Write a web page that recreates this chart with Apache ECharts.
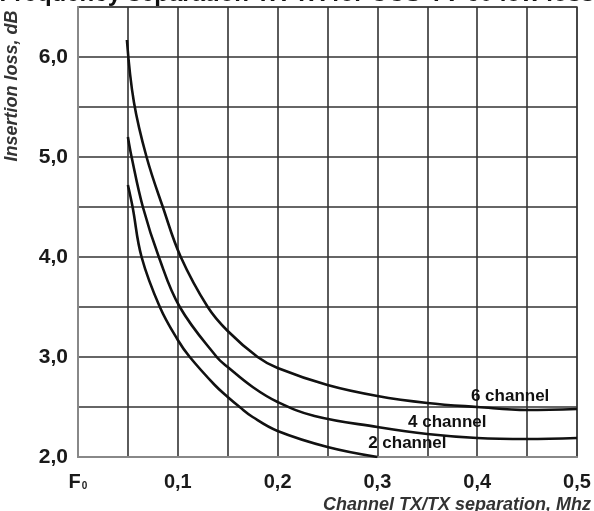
<!DOCTYPE html>
<html>
<head>
<meta charset="utf-8">
<script src="https://cdn.jsdelivr.net/npm/echarts@6/dist/echarts.min.js"></script>
<style>
html,body{margin:0;padding:0;background:#fff;}
#c{width:594px;height:511px;}
</style>
</head>
<body>
<div id="c"></div>
<script>
// ---- data ----
var titleText = 'Frequency separation TX-TX for CCS-TV-60 low loss';
var yAxisName = 'Insertion loss, dB';
var xAxisName = 'Channel TX/TX separation, Mhz';
var xTickLabels = {0: 'F0', 10: '0,1', 20: '0,2', 30: '0,3', 40: '0,4', 50: '0,5'};
var yTickLabels = {20: '2,0', 30: '3,0', 40: '4,0', 50: '5,0', 60: '6,0'};

var sixChannel = [[0.049,6.17],[0.056,5.55],[0.0687,5.0],[0.085,4.5],[0.103,4.0],[0.130,3.5],[0.15,3.26],[0.18,3.0],[0.20,2.89],[0.25,2.72],[0.30,2.61],[0.35,2.54],[0.40,2.50],[0.45,2.47],[0.50,2.48]];
var fourChannel = [[0.050,5.20],[0.0537,5.0],[0.065,4.5],[0.081,4.0],[0.102,3.5],[0.139,3.0],[0.15,2.90],[0.175,2.70],[0.20,2.55],[0.237,2.41],[0.30,2.30],[0.35,2.23],[0.40,2.19],[0.45,2.18],[0.50,2.19]];
var twoChannel = [[0.050,4.72],[0.0547,4.5],[0.0637,4.0],[0.082,3.5],[0.10,3.17],[0.112,3.0],[0.137,2.72],[0.15,2.60],[0.162,2.5],[0.175,2.40],[0.20,2.26],[0.25,2.10],[0.30,2.0]];

var curveNames = ['6 channel', '4 channel', '2 channel'];
var curveLabelAt = [[0.433, 2.61], [0.37, 2.35], [0.33, 2.14]];

// ---- chart ----
var FONT = '"Liberation Sans", Arial, Helvetica, sans-serif';
var chart = echarts.init(document.getElementById('c'), null, {renderer: 'canvas'});

function lineSeries(name, data, labelPos) {
  return {
    name: name,
    type: 'line',
    data: data,
    showSymbol: false,
    smooth: 0.4,
    lineStyle: {color: '#111', width: 2.6},
    z: 5,
    markPoint: {
      symbol: 'circle',
      symbolSize: 0,
      silent: true,
      data: [{coord: labelPos, value: name}],
      label: {
        show: true,
        position: 'inside',
        formatter: name,
        color: '#111',
        fontFamily: FONT,
        fontWeight: 'bold',
        fontSize: 17
      }
    }
  };
}

var option = {
  animation: false,
  backgroundColor: '#fff',
  grid: {left: 78, right: 17, top: 7, bottom: 54, show: true, borderColor: '#999', borderWidth: 2, backgroundColor: 'transparent'},
  xAxis: {
    type: 'value',
    min: 0, max: 0.5, interval: 0.05,
    axisLine: {show: true, onZero: false, lineStyle: {color: '#888', width: 2}},
    axisTick: {show: false},
    splitLine: {show: true, lineStyle: {color: '#333', width: 1.6}},
    axisLabel: {
      margin: 15,
      color: '#1a1a1a',
      fontFamily: FONT,
      fontWeight: 'bold',
      fontSize: 20,
      formatter: function (v) {
        var k = Math.round(v * 100);
        var t = xTickLabels[k];
        if (t === undefined) return '';
        if (t === 'F0') return '{f|F}{s|0}';
        return t;
      },
      rich: {
        f: {fontFamily: FONT, fontWeight: 'bold', fontSize: 20, color: '#1a1a1a'},
        s: {fontFamily: FONT, fontWeight: 'bold', fontSize: 10, color: '#1a1a1a', padding: [8, 0, 0, 1]}
      }
    }
  },
  yAxis: {
    type: 'value',
    min: 2, max: 6.5, interval: 0.5,
    axisLine: {show: true, onZero: false, lineStyle: {color: '#888', width: 2}},
    axisTick: {show: false},
    splitLine: {show: true, lineStyle: {color: '#333', width: 1.6}},
    axisLabel: {
      margin: 10,
      color: '#1a1a1a',
      fontFamily: FONT,
      fontWeight: 'bold',
      fontSize: 21,
      formatter: function (v) {
        var k = Math.round(v * 10);
        var t = yTickLabels[k];
        return t === undefined ? '' : t;
      }
    }
  },
  graphic: [
    {
      type: 'text', left: 'center', top: -18,
      style: {text: titleText, fill: '#111', font: 'bold 24px ' + FONT}
    },
    {
      type: 'text', x: 12, y: 86, rotation: Math.PI / 2,
      style: {text: yAxisName, fill: '#333', font: 'italic bold 18px ' + FONT, align: 'center', verticalAlign: 'middle'}
    },
    {
      type: 'text', x: 591, y: 505,
      style: {text: xAxisName, fill: '#333', font: 'italic bold 18px ' + FONT, align: 'right', verticalAlign: 'middle'}
    }
  ],
  series: [
    lineSeries(curveNames[0], sixChannel, curveLabelAt[0]),
    lineSeries(curveNames[1], fourChannel, curveLabelAt[1]),
    lineSeries(curveNames[2], twoChannel, curveLabelAt[2])
  ]
};
chart.setOption(option);
</script>
</body>
</html>
